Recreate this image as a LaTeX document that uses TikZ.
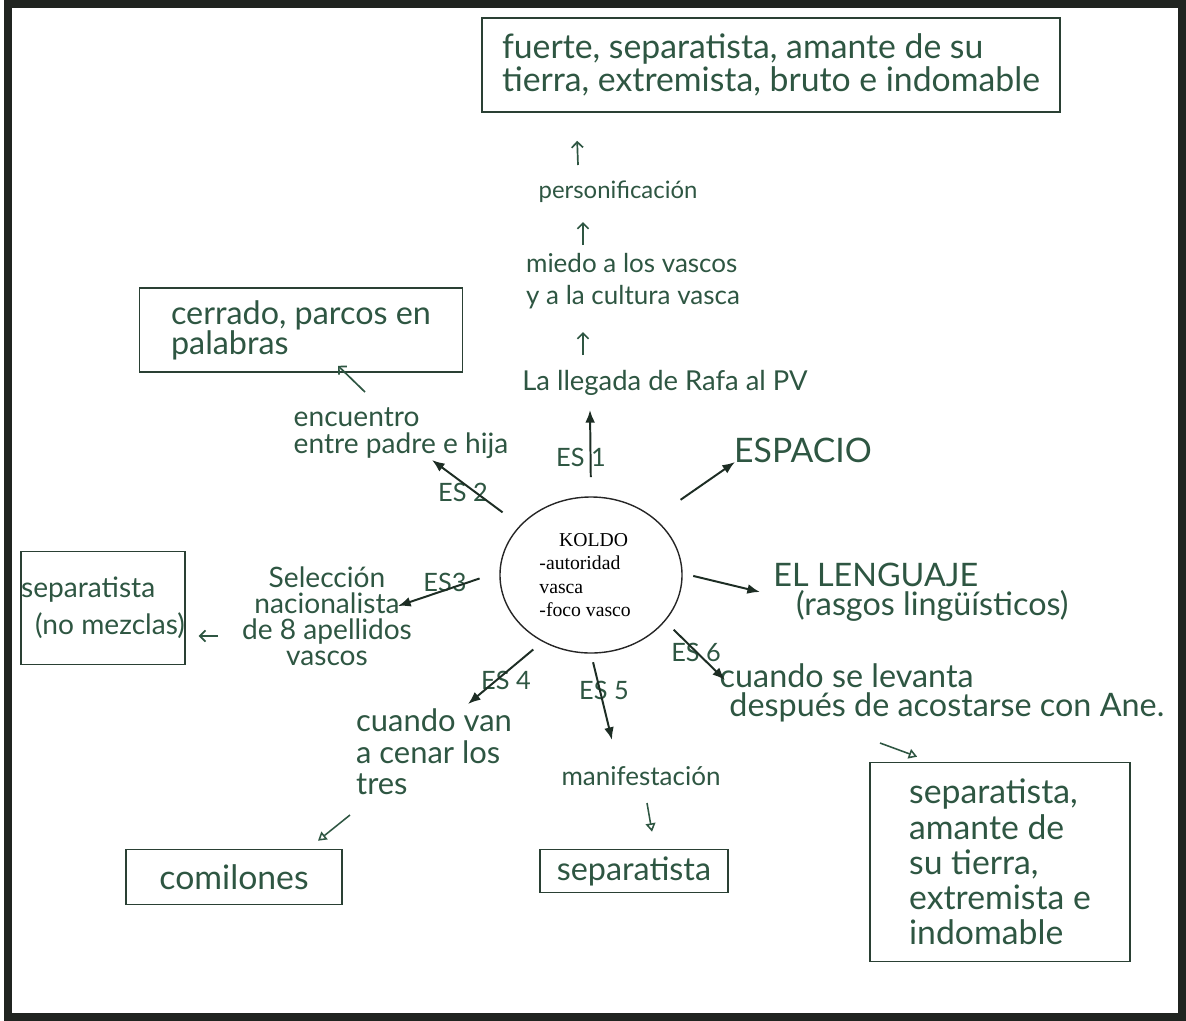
\documentclass[tikz,border=0pt]{standalone}
\usepackage{fontspec}
\usepackage{xcolor}
\usetikzlibrary{positioning, arrows.meta, calc, shapes.geometric}
\newfontfamily\handfont{Lato}
\newfontfamily\printfont{Liberation Serif}
\newcommand{\hand}[2]{\handfont\fontsize{#1}{#2}\selectfont}
\definecolor{ink}{RGB}{46,86,66}
\definecolor{boxink}{RGB}{42,64,52}
\definecolor{frameink}{RGB}{32,36,32}

\begin{document}
\begin{tikzpicture}[x=0.025cm, y=-0.025cm,
	txt/.style={text=ink, inner sep=0pt},
	note/.style={draw=boxink, line width=1.1pt, text=ink, inner sep=0pt},
	eslab/.style={txt, font=\hand{18}{18}},
	es/.style={draw=boxink!70!black, line width=1.4pt, -{Latex[length=9pt,width=7pt]}},
	up/.style={draw=ink, line width=1.2pt, -{Straight Barb[length=4pt,width=8pt]}},
	hollow/.style={draw=ink, line width=1.1pt, -{Triangle[open,length=6pt,width=7pt]}}]
			\useasboundingbox (0,0) rectangle (1186,1021);
			\draw[frameink, line width=0.2cm] (8,4) rectangle (1182,1017);
			
			\node[ellipse, draw=black!85, line width=1pt, minimum width=4.55cm, minimum height=3.9cm, inner sep=0pt, align=left, font=\printfont\fontsize{14}{16.7}\selectfont] (koldo) at (591,575) {\hspace*{1em}KOLDO\\-autoridad\\vasca\\-foco vasco\hspace*{0.6em}};
			
			\node[note, minimum width=14.45cm, minimum height=2.35cm, align=left, font=\hand{24}{23.5}] (top) at (771,65) {fuerte, separatista, amante de su\\tierra, extremista, bruto e indomable};
			\node[txt, font=\hand{17}{20}] (persona) at (618,192) {personificación};
			\node[txt, align=left, font=\hand{18.5}{22.5}] (miedo) at (633,281) {miedo a los vascos\\y a la cultura vasca};
			\node[txt, font=\hand{19.5}{20}] (rafa) at (665,383) {La llegada de Rafa al PV};
			
			\node[txt, align=left, font=\hand{20}{19.5}] (encuentro) at (401,433) {encuentro\\entre padre e hija};
			\node[note, minimum width=8.075cm, minimum height=2.1cm, align=left, font=\hand{23}{21.5}] (cerrado) at (301,330) {cerrado, parcos en\\palabras};
			
			\node[txt, font=\hand{24}{24}] (espacio) at (803,450) {ESPACIO};
			\node[txt, align=left, font=\hand{23}{20.5}] (lenguaje) at (921,592) {EL LENGUAJE\\\hspace*{0.7em}(rasgos lingüísticos)};
			\node[txt, align=left, font=\hand{23}{21}] (levanta) at (942,693) {cuando se levanta\\\hspace*{0.3em}después de acostarse con Ane.};
			\node[note, minimum width=6.5cm, minimum height=4.975cm, align=left, font=\hand{24}{25}] (brbox) at (1000,862) {separatista,\\amante de\\su tierra,\\extremista e\\indomable};
			
			\node[txt, font=\hand{18.5}{20}] (manifest) at (641,776) {manifestación};
			\node[note, minimum width=4.7cm, minimum height=1.075cm, font=\hand{23}{23}] (sepbox) at (634,871) {separatista};
			\node[txt, align=left, font=\hand{22}{22.5}] (cenar) at (434,752) {cuando van\\a cenar los\\tres};
			\node[note, minimum width=5.4cm, minimum height=1.375cm, font=\hand{24}{24}] (comilones) at (234,877) {comilones};
			
			\node[txt, align=center, font=\hand{20}{18.5}] (seleccion) at (327,616) {Selección\\nacionalista\\de 8 apellidos\\vascos};
			\node[note, minimum width=4.075cm, minimum height=2.825cm, align=left, font=\hand{20}{26}] (leftbox) at (103,608) {separatista\\\hspace*{0.5em}(no mezclas)};
			
			\node[eslab] (es1) at (581,457) {ES 1};
			\node[eslab] (es2) at (463,492) {ES 2};
			\node[eslab] (es3) at (445,582) {ES3};
			\node[eslab] (es4) at (506,680) {ES 4};
			\node[eslab] (es5) at (604,690) {ES 5};
			\node[eslab] (es6) at (696,652) {ES 6};
			
			\path
			(koldo.90) edge[es, shorten <=0.48cm] ($(rafa)+(-75,27)$)
			(koldo.145) edge[es, shorten <=0.54cm] ($(encuentro)+(31,27)$)
			(koldo.42) edge[es, shorten <=0.8cm] ($(espacio)+(-68,12)$)
			(koldo.178) edge[es, shorten <=0.52cm] ($(seleccion)+(71,-10)$)
			(koldo.234) edge[es, shorten <=0.3cm] ($(cenar)+(34,-48)$)
			(koldo.270) edge[es, shorten <=0.22cm] ($(manifest)+(-29,-36)$)
			(koldo.328) edge[es, shorten <=0.3cm] ($(levanta)+(-217,-13)$)
			(koldo.1) edge[es, shorten <=0.27cm] ($(lenguaje)+(-161,0)$);
			
			\draw[up] ($(persona)+(-40,-27)$) -- ($(top.south west)+(96,28)$);
			\draw[up] ($(miedo)+(-50,-36)$) -- ($(persona)+(-35,30)$);
			\draw[up] ($(rafa)+(-82,-28)$) -- ($(miedo)+(-50,51)$);
			\draw[up] ($(encuentro)+(-36,-41)$) -- ($(cerrado.south)+(37,-7)$);
			\draw[up] ($(seleccion)+(-109,20)$) -- ($(leftbox.east)+(13,28)$);
			\draw[hollow] ($(cenar)+(-84,63)$) -- ($(comilones.north)+(84,-8)$);
			\draw[hollow] ($(manifest)+(6,27)$) -- ($(sepbox.north)+(18,-17)$);
			\draw[hollow] ($(levanta)+(-62,50)$) -- ($(brbox.north west)+(48,-5)$);
		\end{tikzpicture}
\end{document}
